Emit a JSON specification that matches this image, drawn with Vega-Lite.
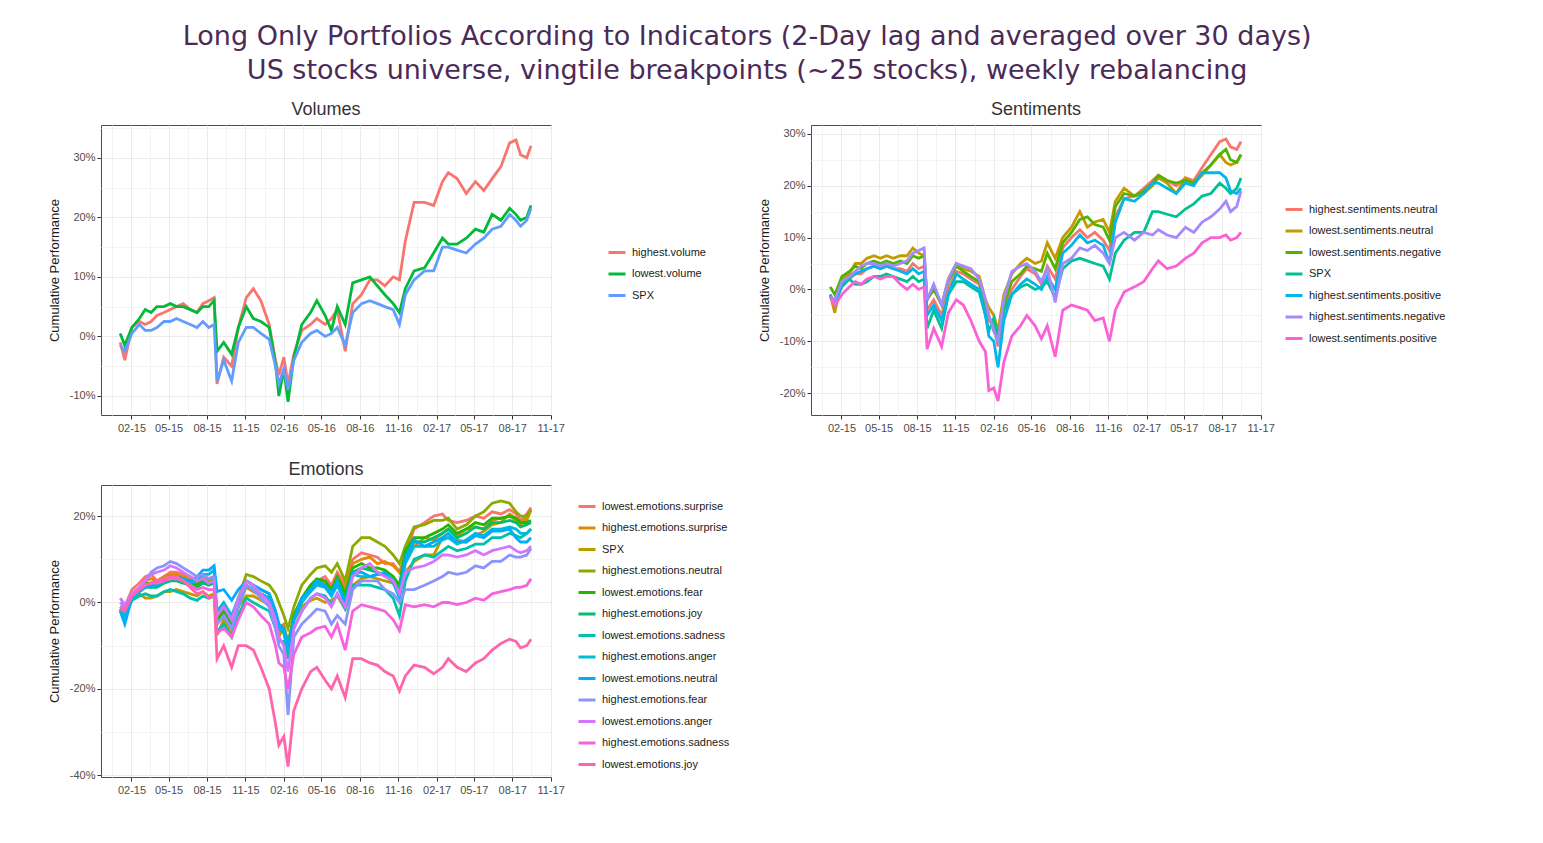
{
  "$schema": "https://vega.github.io/schema/vega-lite/v6.json",
  "background": "white",
  "padding": {"left": 47, "top": 22, "right": 0, "bottom": 0},
  "title": {
    "text": ["Long Only Portfolios According to Indicators (2-Day lag and averaged over 30 days)", "US stocks universe, vingtile breakpoints (~25 stocks), weekly rebalancing"],
    "font": "DejaVu Sans", "fontSize": 27, "fontWeight": "normal", "color": "#4B2A57",
    "anchor": "middle", "lineHeight": 34, "offset": 16
  },
  "config": {
    "view": {"stroke": "#4D4D4D", "strokeWidth": 1},
    "axis": {
      "labelFont": "Liberation Sans", "labelFontSize": 11, "labelColor": "#4D4D4D",
      "tickColor": "#333333", "tickSize": 4, "domain": false, "labelOverlap": false, "labelFlush": false,
      "gridColor": "#EBEBEB", "gridWidth": 1,
      "titleFont": "Liberation Sans", "titleFontSize": 13, "titleColor": "#1A1A1A", "titleFontWeight": "normal"
    },
    "title": {"font": "Liberation Sans", "fontSize": 18, "fontWeight": "normal", "color": "#333333", "offset": 6, "anchor": "middle"},
    "legend": {
      "orient": "none", "title": null, "symbolType": "stroke", "symbolSize": 289, "symbolStrokeWidth": 3,
      "labelFont": "Liberation Sans", "labelFontSize": 11, "labelColor": "#1A1A1A", "rowPadding": 5.5, "labelOffset": 5, "padding": 0
    }
  },
  "datasets": {
    "vol": [
      {"t":"2015-01-05","a":-1,"b":0.5,"c":-1.5},
      {"t":"2015-01-16","a":-4,"b":-1.5,"c":-2.5},
      {"t":"2015-02-02","a":1.5,"b":1.5,"c":0.5},
      {"t":"2015-02-20","a":2.5,"b":3,"c":2},
      {"t":"2015-03-06","a":2,"b":4.5,"c":1},
      {"t":"2015-03-20","a":2.5,"b":4,"c":1},
      {"t":"2015-04-03","a":3.5,"b":5,"c":1.5},
      {"t":"2015-04-20","a":4,"b":5,"c":2.5},
      {"t":"2015-05-05","a":4.5,"b":5.5,"c":2.5},
      {"t":"2015-05-20","a":5,"b":5,"c":3},
      {"t":"2015-06-05","a":5.5,"b":5,"c":2.5},
      {"t":"2015-06-22","a":4.5,"b":4.5,"c":2},
      {"t":"2015-07-08","a":4,"b":4,"c":1.5},
      {"t":"2015-07-22","a":5.5,"b":5,"c":2.5},
      {"t":"2015-08-05","a":6,"b":5,"c":1.5},
      {"t":"2015-08-18","a":6.5,"b":6,"c":2},
      {"t":"2015-08-25","a":-8,"b":-2.5,"c":-7.5},
      {"t":"2015-09-10","a":-3.5,"b":-1,"c":-4},
      {"t":"2015-09-29","a":-5,"b":-3,"c":-7.5},
      {"t":"2015-10-15","a":1.5,"b":1.5,"c":-1},
      {"t":"2015-11-03","a":6.5,"b":5,"c":1.5},
      {"t":"2015-11-20","a":8,"b":3,"c":1.5},
      {"t":"2015-12-08","a":6,"b":2.5,"c":0.5},
      {"t":"2015-12-28","a":2,"b":1.5,"c":-0.5},
      {"t":"2016-01-12","a":-4,"b":-4.5,"c":-5},
      {"t":"2016-01-20","a":-6.5,"b":-10,"c":-8},
      {"t":"2016-02-01","a":-3.5,"b":-5.5,"c":-5.5},
      {"t":"2016-02-11","a":-8,"b":-11,"c":-9},
      {"t":"2016-02-25","a":-3,"b":-3.5,"c":-4},
      {"t":"2016-03-15","a":1,"b":2,"c":-1},
      {"t":"2016-04-05","a":2,"b":4,"c":0.5},
      {"t":"2016-04-20","a":3,"b":6,"c":1},
      {"t":"2016-05-10","a":2,"b":3.5,"c":0},
      {"t":"2016-05-25","a":3,"b":1,"c":0.5},
      {"t":"2016-06-08","a":4.5,"b":5,"c":1.5},
      {"t":"2016-06-27","a":-2.5,"b":2,"c":-1.5},
      {"t":"2016-07-15","a":5.5,"b":9,"c":4},
      {"t":"2016-08-05","a":7,"b":9.5,"c":5.5},
      {"t":"2016-08-25","a":9.5,"b":10,"c":6},
      {"t":"2016-09-12","a":9.5,"b":8.5,"c":5.5},
      {"t":"2016-09-30","a":8.5,"b":7,"c":5},
      {"t":"2016-10-20","a":10,"b":5.5,"c":4.5},
      {"t":"2016-11-04","a":9.5,"b":4,"c":2},
      {"t":"2016-11-18","a":16,"b":8,"c":7},
      {"t":"2016-12-09","a":22.5,"b":11,"c":9.5},
      {"t":"2017-01-03","a":22.5,"b":11.5,"c":11},
      {"t":"2017-01-25","a":22,"b":14,"c":11},
      {"t":"2017-02-15","a":26,"b":16.5,"c":15},
      {"t":"2017-03-01","a":27.5,"b":15.5,"c":15},
      {"t":"2017-03-22","a":26.5,"b":15.5,"c":14.5},
      {"t":"2017-04-13","a":24,"b":16.5,"c":14},
      {"t":"2017-05-05","a":26,"b":18,"c":15.5},
      {"t":"2017-05-25","a":24.5,"b":17.5,"c":16.5},
      {"t":"2017-06-14","a":26.5,"b":20.5,"c":18},
      {"t":"2017-07-05","a":28.5,"b":19.5,"c":18.5},
      {"t":"2017-07-26","a":32.5,"b":21.5,"c":20.5},
      {"t":"2017-08-10","a":33,"b":20.5,"c":19.5},
      {"t":"2017-08-21","a":30.5,"b":19.5,"c":18.5},
      {"t":"2017-09-05","a":30,"b":20,"c":19.5},
      {"t":"2017-09-15","a":32,"b":22,"c":21.5}
    ],
    "sen": [
      {"t":"2015-01-05","a":-1,"b":-1,"c":0.5,"d":-1.5,"e":-1,"f":-1.5,"g":-1.5},
      {"t":"2015-01-16","a":-2.5,"b":-4.5,"c":-1,"d":-2.5,"e":-3,"f":-2,"g":-3},
      {"t":"2015-02-02","a":1,"b":2,"c":2.5,"d":0.5,"e":1,"f":1.5,"g":-1},
      {"t":"2015-02-20","a":2,"b":3,"c":3.5,"d":2,"e":2.5,"f":2.5,"g":0.5},
      {"t":"2015-03-06","a":3,"b":5,"c":4.5,"d":1,"e":3,"f":3.5,"g":1.5},
      {"t":"2015-03-20","a":3,"b":5,"c":4,"d":1,"e":3.5,"f":4.5,"g":1},
      {"t":"2015-04-03","a":4,"b":6,"c":5,"d":1.5,"e":4,"f":5,"g":2},
      {"t":"2015-04-20","a":4.5,"b":6.5,"c":5.5,"d":2.5,"e":4.5,"f":5,"g":2.5},
      {"t":"2015-05-05","a":4,"b":6,"c":5,"d":2.5,"e":4,"f":4.5,"g":2},
      {"t":"2015-05-20","a":4.5,"b":6.5,"c":5.5,"d":3,"e":4.5,"f":5,"g":2.5},
      {"t":"2015-06-05","a":4,"b":6,"c":5,"d":2.5,"e":4,"f":4.5,"g":2.5},
      {"t":"2015-06-22","a":4,"b":6.5,"c":5.5,"d":2,"e":3.5,"f":5,"g":1},
      {"t":"2015-07-08","a":3.5,"b":6.5,"c":5,"d":1.5,"e":3,"f":5.5,"g":0},
      {"t":"2015-07-22","a":5,"b":8,"c":6.5,"d":2.5,"e":4,"f":7,"g":1},
      {"t":"2015-08-05","a":4,"b":7,"c":6,"d":1.5,"e":3,"f":7.5,"g":0},
      {"t":"2015-08-18","a":4.5,"b":6.5,"c":6.5,"d":2,"e":3.5,"f":8,"g":0.5},
      {"t":"2015-08-25","a":-4,"b":-2,"c":-2,"d":-7.5,"e":-5,"f":-2,"g":-11.5},
      {"t":"2015-09-10","a":-2,"b":0.5,"c":0,"d":-4,"e":-3,"f":1,"g":-7.5},
      {"t":"2015-09-29","a":-5,"b":-3,"c":-3,"d":-7.5,"e":-6,"f":-3,"g":-11},
      {"t":"2015-10-15","a":0,"b":2,"c":1.5,"d":-1,"e":-1,"f":2,"g":-4.5},
      {"t":"2015-11-03","a":3.5,"b":5,"c":4.5,"d":1.5,"e":3,"f":5,"g":-2},
      {"t":"2015-11-20","a":3,"b":4,"c":3.5,"d":1.5,"e":2,"f":4.5,"g":-3},
      {"t":"2015-12-08","a":2,"b":3.5,"c":2.5,"d":0.5,"e":1,"f":4,"g":-6},
      {"t":"2015-12-28","a":1,"b":2.5,"c":1.5,"d":-0.5,"e":0,"f":2,"g":-10},
      {"t":"2016-01-12","a":-4,"b":-2,"c":-3,"d":-5,"e":-5,"f":-2,"g":-12},
      {"t":"2016-01-20","a":-6,"b":-3.5,"c":-5,"d":-8,"e":-9,"f":-5,"g":-19.5},
      {"t":"2016-02-01","a":-7,"b":-5,"c":-8,"d":-5.5,"e":-10,"f":-8,"g":-19},
      {"t":"2016-02-11","a":-11,"b":-8,"c":-10,"d":-9,"e":-15,"f":-10,"g":-21.5},
      {"t":"2016-02-25","a":-4,"b":-1,"c":-3,"d":-4,"e":-6,"f":-2,"g":-14},
      {"t":"2016-03-15","a":0,"b":3,"c":1.5,"d":-1,"e":-1,"f":3.5,"g":-9},
      {"t":"2016-04-05","a":2.5,"b":5,"c":3,"d":0.5,"e":1,"f":4.5,"g":-7},
      {"t":"2016-04-20","a":4,"b":6,"c":4.5,"d":1,"e":2,"f":5,"g":-5},
      {"t":"2016-05-10","a":3,"b":5,"c":4,"d":0,"e":1,"f":3.5,"g":-7},
      {"t":"2016-05-25","a":1,"b":5.5,"c":3.5,"d":0.5,"e":0,"f":1.5,"g":-9.5},
      {"t":"2016-06-08","a":4.5,"b":9,"c":7,"d":1.5,"e":2.5,"f":4,"g":-7},
      {"t":"2016-06-27","a":2,"b":6,"c":4,"d":-1.5,"e":0,"f":-2.5,"g":-13},
      {"t":"2016-07-15","a":8,"b":10,"c":9,"d":4,"e":7,"f":5,"g":-4},
      {"t":"2016-08-05","a":10,"b":12,"c":11,"d":5.5,"e":8.5,"f":6,"g":-3},
      {"t":"2016-08-25","a":11.5,"b":15,"c":13.5,"d":6,"e":10.5,"f":8,"g":-3.5},
      {"t":"2016-09-12","a":10,"b":12,"c":14,"d":5.5,"e":9,"f":7.5,"g":-4},
      {"t":"2016-09-30","a":11,"b":13,"c":12.5,"d":5,"e":9.5,"f":8.5,"g":-6},
      {"t":"2016-10-20","a":9.5,"b":13.5,"c":12,"d":4.5,"e":8.5,"f":7,"g":-5.5},
      {"t":"2016-11-04","a":7.5,"b":11,"c":9.5,"d":2,"e":5,"f":5,"g":-10},
      {"t":"2016-11-18","a":14,"b":17,"c":16,"d":7,"e":13,"f":10,"g":-4},
      {"t":"2016-12-09","a":17.5,"b":19.5,"c":18.5,"d":9.5,"e":17.5,"f":11,"g":-0.5},
      {"t":"2017-01-03","a":18,"b":18,"c":18,"d":11,"e":17,"f":9.5,"g":0.5},
      {"t":"2017-01-25","a":19.5,"b":18.5,"c":19,"d":11,"e":18.5,"f":11,"g":1.5},
      {"t":"2017-02-15","a":21,"b":20,"c":20.5,"d":15,"e":20.5,"f":10.5,"g":4},
      {"t":"2017-03-01","a":22,"b":21.5,"c":22,"d":15,"e":20.5,"f":11.5,"g":5.5},
      {"t":"2017-03-22","a":21,"b":20.5,"c":21,"d":14.5,"e":19.5,"f":10.5,"g":4},
      {"t":"2017-04-13","a":20,"b":18.5,"c":20.5,"d":14,"e":18.5,"f":10,"g":4.5},
      {"t":"2017-05-05","a":21.5,"b":21.5,"c":21,"d":15.5,"e":20.5,"f":12,"g":6},
      {"t":"2017-05-25","a":21,"b":20.5,"c":20.5,"d":16.5,"e":20,"f":11,"g":7},
      {"t":"2017-06-14","a":23.5,"b":22,"c":22.5,"d":18,"e":22.5,"f":13,"g":9},
      {"t":"2017-07-05","a":26,"b":24,"c":24,"d":18.5,"e":22.5,"f":14,"g":10},
      {"t":"2017-07-26","a":28.5,"b":26,"c":26,"d":20.5,"e":22.5,"f":15.5,"g":10},
      {"t":"2017-08-10","a":29,"b":24.5,"c":27,"d":19.5,"e":21.5,"f":17,"g":10.5},
      {"t":"2017-08-21","a":27.5,"b":24,"c":25,"d":18.5,"e":19,"f":15,"g":9.5},
      {"t":"2017-09-05","a":27,"b":24.5,"c":24.5,"d":19.5,"e":18.5,"f":16,"g":10},
      {"t":"2017-09-15","a":28.5,"b":26,"c":26,"d":21.5,"e":19.5,"f":19,"g":11}
    ],
    "emo": [
      {"t":"2015-01-05","a":-1,"b":-1.5,"c":-1.5,"d":-1.5,"e":-1,"f":-1.5,"g":-2,"h":-1.5,"i":-2,"j":0,"k":1,"l":-1,"m":-1.5},
      {"t":"2015-01-16","a":-1,"b":-2,"c":-2.5,"d":-2.5,"e":-2,"f":-2.5,"g":-3,"h":-3.5,"i":-5,"j":-1,"k":-0.5,"l":-1.5,"m":-2},
      {"t":"2015-02-02","a":3,"b":2,"c":0.5,"d":2,"e":2,"f":1.5,"g":0.5,"h":1.5,"i":1,"j":2,"k":2,"l":1.5,"m":1.5},
      {"t":"2015-02-20","a":4.5,"b":3.5,"c":2,"d":3,"e":3,"f":2.5,"g":1.5,"h":3,"i":2.5,"j":3.5,"k":3.5,"l":3,"m":3},
      {"t":"2015-03-06","a":6,"b":5,"c":1,"d":4,"e":4.5,"f":3.5,"g":2,"h":4,"i":3.5,"j":5,"k":5,"l":4,"m":4},
      {"t":"2015-03-20","a":6.5,"b":5.5,"c":1,"d":4.5,"e":4.5,"f":3.5,"g":1.5,"h":4,"i":4,"j":7,"k":6.5,"l":4.5,"m":4.5},
      {"t":"2015-04-03","a":5,"b":5,"c":1.5,"d":4.5,"e":4,"f":3.5,"g":1.5,"h":4,"i":4,"j":8,"k":7,"l":4.5,"m":5},
      {"t":"2015-04-20","a":6,"b":6,"c":2.5,"d":5.5,"e":5,"f":4.5,"g":2.5,"h":5,"i":5,"j":8.5,"k":7.5,"l":5,"m":5.5},
      {"t":"2015-05-05","a":7,"b":6.5,"c":2.5,"d":6,"e":5.5,"f":5,"g":3,"h":6,"i":6,"j":9.5,"k":8.5,"l":5.5,"m":6},
      {"t":"2015-05-20","a":7,"b":6.5,"c":3,"d":6,"e":6,"f":5,"g":2.5,"h":6,"i":6,"j":9,"k":8,"l":5.5,"m":6},
      {"t":"2015-06-05","a":6.5,"b":6,"c":2.5,"d":5.5,"e":5,"f":4.5,"g":2,"h":5.5,"i":5.5,"j":8,"k":7,"l":5,"m":5},
      {"t":"2015-06-22","a":6,"b":5.5,"c":2,"d":5,"e":4.5,"f":4,"g":1,"h":4.5,"i":5,"j":7,"k":6,"l":4,"m":3.5},
      {"t":"2015-07-08","a":5,"b":5,"c":1.5,"d":4.5,"e":4,"f":3.5,"g":0.5,"h":5,"i":6,"j":6,"k":5,"l":3,"m":2},
      {"t":"2015-07-22","a":6,"b":5.5,"c":2.5,"d":5,"e":5,"f":4.5,"g":1.5,"h":6.5,"i":7.5,"j":6.5,"k":5.5,"l":3.5,"m":2.5},
      {"t":"2015-08-05","a":5.5,"b":5.5,"c":1.5,"d":5,"e":4.5,"f":4,"g":1,"h":6.5,"i":7.5,"j":5.5,"k":4.5,"l":3,"m":1},
      {"t":"2015-08-18","a":6,"b":6,"c":2,"d":5.5,"e":5,"f":4.5,"g":1.5,"h":7.5,"i":8.5,"j":6,"k":5,"l":3,"m":1.5},
      {"t":"2015-08-25","a":-4,"b":-4.5,"c":-7.5,"d":-3,"e":-4,"f":-5,"g":-7,"h":-2,"i":2.5,"j":-5,"k":-3,"l":-7,"m":-13},
      {"t":"2015-09-10","a":-2,"b":-2.5,"c":-4,"d":-1,"e":-2,"f":-3,"g":-5,"h":0,"i":3,"j":-3,"k":-1,"l":-6,"m":-10},
      {"t":"2015-09-29","a":-5,"b":-5.5,"c":-7.5,"d":-4,"e":-5,"f":-6,"g":-8,"h":-3,"i":0.5,"j":-6,"k":-4,"l":-8,"m":-15},
      {"t":"2015-10-15","a":0,"b":-0.5,"c":-1,"d":1,"e":0,"f":-1,"g":-3,"h":1,"i":3,"j":-1,"k":1,"l":-4,"m":-10},
      {"t":"2015-11-03","a":4,"b":3.5,"c":1.5,"d":6.5,"e":5,"f":4,"g":1,"h":4,"i":5,"j":4,"k":5,"l":0,"m":-10},
      {"t":"2015-11-20","a":3,"b":2.5,"c":1.5,"d":6,"e":4,"f":3,"g":0,"h":3,"i":4,"j":3,"k":4,"l":-1,"m":-11},
      {"t":"2015-12-08","a":2,"b":1.5,"c":0.5,"d":5,"e":3,"f":2,"g":-1,"h":2,"i":3,"j":1,"k":2,"l":-3,"m":-15},
      {"t":"2015-12-28","a":1,"b":0.5,"c":-0.5,"d":4,"e":2,"f":1,"g":-2,"h":1,"i":2,"j":-1,"k":0,"l":-5,"m":-20},
      {"t":"2016-01-12","a":-4,"b":-4.5,"c":-5,"d":2,"e":-2,"f":-3,"g":-6,"h":-3,"i":-2,"j":-6,"k":-4,"l":-10,"m":-28},
      {"t":"2016-01-20","a":-6,"b":-7,"c":-8,"d":0,"e":-5,"f":-6,"g":-9,"h":-6,"i":-5,"j":-10,"k":-8,"l":-14,"m":-33},
      {"t":"2016-02-01","a":-5,"b":-6,"c":-5.5,"d":-3,"e":-6,"f":-7,"g":-9,"h":-7,"i":-6,"j":-12,"k":-10,"l":-15,"m":-31},
      {"t":"2016-02-11","a":-10,"b":-11,"c":-9,"d":-6,"e":-10,"f":-12,"g":-13,"h":-11,"i":-10,"j":-26,"k":-16,"l":-20,"m":-38},
      {"t":"2016-02-25","a":-3,"b":-4,"c":-4,"d":-1,"e":-3,"f":-4,"g":-6,"h":-4,"i":-4,"j":-8,"k":-6,"l":-12,"m":-25},
      {"t":"2016-03-15","a":1,"b":0.5,"c":-1,"d":4,"e":1,"f":0,"g":-2,"h":0,"i":1,"j":-5,"k":-2,"l":-8,"m":-20},
      {"t":"2016-04-05","a":4,"b":3,"c":0.5,"d":6.5,"e":4,"f":3,"g":1,"h":2.5,"i":3,"j":-3,"k":1,"l":-7,"m":-16},
      {"t":"2016-04-20","a":5,"b":4.5,"c":1,"d":8,"e":5.5,"f":4.5,"g":2,"h":4,"i":5,"j":-1.5,"k":2,"l":-6,"m":-15},
      {"t":"2016-05-10","a":6,"b":5,"c":0,"d":8.5,"e":5,"f":4,"g":1.5,"h":3.5,"i":4,"j":-2,"k":1,"l":-5.5,"m":-18},
      {"t":"2016-05-25","a":4,"b":3,"c":0.5,"d":7,"e":3,"f":2,"g":-0.5,"h":1.5,"i":2,"j":-5,"k":-1,"l":-8,"m":-20},
      {"t":"2016-06-08","a":7,"b":6,"c":1.5,"d":9,"e":6,"f":5,"g":2,"h":4,"i":5,"j":-3,"k":2,"l":-5,"m":-17},
      {"t":"2016-06-27","a":4,"b":3,"c":-1.5,"d":5,"e":2,"f":1,"g":-1.5,"h":0,"i":-0.5,"j":-5,"k":-1,"l":-11,"m":-22},
      {"t":"2016-07-15","a":10,"b":9,"c":4,"d":13,"e":8,"f":7,"g":4,"h":6.5,"i":7,"j":3,"k":6,"l":-2,"m":-13},
      {"t":"2016-08-05","a":11.5,"b":10,"c":5.5,"d":15,"e":9,"f":8,"g":4,"h":6,"i":7,"j":5,"k":8,"l":-0.5,"m":-13},
      {"t":"2016-08-25","a":11,"b":10.5,"c":6,"d":15,"e":8,"f":7.5,"g":4,"h":6,"i":6,"j":5,"k":9,"l":-1,"m":-14},
      {"t":"2016-09-12","a":10.5,"b":9,"c":5.5,"d":14,"e":8,"f":7,"g":3.5,"h":6.5,"i":6.5,"j":5,"k":7,"l":-1.5,"m":-14.5},
      {"t":"2016-09-30","a":9,"b":9.5,"c":5,"d":13,"e":7.5,"f":6.5,"g":3,"h":6.5,"i":7,"j":3,"k":6,"l":-2,"m":-16},
      {"t":"2016-10-20","a":9,"b":8.5,"c":4.5,"d":11,"e":6,"f":5,"g":1,"h":4.5,"i":5,"j":2,"k":5,"l":-4,"m":-17},
      {"t":"2016-11-04","a":7,"b":7,"c":2,"d":9,"e":4,"f":3,"g":-3,"h":1,"i":2,"j":0,"k":2,"l":-6.5,"m":-20.5},
      {"t":"2016-11-18","a":11,"b":10,"c":7,"d":13,"e":12,"f":11,"g":5,"h":9,"i":10,"j":3,"k":7,"l":-0.5,"m":-17},
      {"t":"2016-12-09","a":17,"b":13,"c":9.5,"d":17.5,"e":15,"f":14,"g":10,"h":13,"i":14.5,"j":3,"k":8,"l":-1,"m":-14.5},
      {"t":"2017-01-03","a":18.5,"b":15,"c":11,"d":18,"e":15,"f":14,"g":11,"h":13,"i":13,"j":4,"k":8.5,"l":-0.5,"m":-15},
      {"t":"2017-01-25","a":20,"b":14.5,"c":11,"d":19,"e":16,"f":15,"g":10.5,"h":13,"i":14,"j":5,"k":9.5,"l":-1,"m":-16.5},
      {"t":"2017-02-15","a":20.5,"b":16,"c":15,"d":19,"e":17,"f":16,"g":12,"h":14.5,"i":15,"j":6,"k":11,"l":0,"m":-15},
      {"t":"2017-03-01","a":19,"b":17,"c":15,"d":19.5,"e":18,"f":17,"g":13,"h":15,"i":16,"j":7,"k":11,"l":0,"m":-13},
      {"t":"2017-03-22","a":18.5,"b":15.5,"c":14.5,"d":17,"e":16,"f":15,"g":12,"h":13.5,"i":14,"j":6.5,"k":10.5,"l":-0.5,"m":-15},
      {"t":"2017-04-13","a":19,"b":17,"c":14,"d":18,"e":17,"f":16,"g":12.5,"h":14.5,"i":14,"j":7,"k":11,"l":0,"m":-16},
      {"t":"2017-05-05","a":20,"b":17.5,"c":15.5,"d":20,"e":18.5,"f":17.5,"g":13.5,"h":16,"i":15.5,"j":8.5,"k":12,"l":1,"m":-14},
      {"t":"2017-05-25","a":19.5,"b":17,"c":16.5,"d":21,"e":18,"f":17,"g":13.5,"h":15.5,"i":15,"j":8,"k":11,"l":0.5,"m":-13},
      {"t":"2017-06-14","a":21,"b":19,"c":18,"d":23,"e":19.5,"f":18.5,"g":15,"h":17,"i":16.5,"j":9.5,"k":12,"l":2,"m":-11},
      {"t":"2017-07-05","a":20.5,"b":19.5,"c":18.5,"d":23.5,"e":19.5,"f":18.5,"g":15,"h":17,"i":16.5,"j":9.5,"k":12.5,"l":2.5,"m":-9.5},
      {"t":"2017-07-26","a":21.5,"b":20,"c":20.5,"d":23,"e":20,"f":19,"g":16,"h":17.5,"i":17,"j":11,"k":13,"l":3,"m":-8.5},
      {"t":"2017-08-10","a":20.5,"b":19,"c":19.5,"d":21,"e":19.5,"f":18.5,"g":15.5,"h":17,"i":15,"j":10.5,"k":12,"l":3.5,"m":-9},
      {"t":"2017-08-21","a":19,"b":18,"c":18.5,"d":20,"e":18.5,"f":17.5,"g":15,"h":16,"i":14,"j":10.5,"k":11.5,"l":3.5,"m":-10.5},
      {"t":"2017-09-05","a":20.5,"b":19,"c":19.5,"d":20,"e":18.5,"f":18,"g":16,"h":16,"i":14,"j":11,"k":12,"l":4,"m":-10},
      {"t":"2017-09-15","a":22,"b":21.5,"c":21.5,"d":21.5,"e":19,"f":18.5,"g":17,"h":17,"i":15,"j":12.5,"k":13,"l":5.5,"m":-8.5}
    ]
  },
  "vconcat": [
    {
      "hconcat": [
        {
          "width": 450, "height": 290,
          "title": {"text": "Volumes"},
          "data": {"name": "vol"},
          "transform": [{"fold": ["a", "b", "c"], "as": ["series", "val"]}],
          "layer": [
            {
              "mark": {"type": "line", "opacity": 0},
              "encoding": {
                "x": {"field": "t", "type": "temporal", "axis": {"orient": "bottom", "values": [{"year":2014,"month":12,"date":17},{"year":2015,"month":3,"date":17},{"year":2015,"month":6,"date":16},{"year":2015,"month":9,"date":16},{"year":2015,"month":12,"date":17},{"year":2016,"month":3,"date":17},{"year":2016,"month":6,"date":16},{"year":2016,"month":9,"date":16},{"year":2016,"month":12,"date":17},{"year":2017,"month":3,"date":17},{"year":2017,"month":6,"date":16},{"year":2017,"month":9,"date":16}], "labels": false, "ticks": false, "title": null, "grid": true, "gridColor": "#F3F3F3"}},
                "y": {"field": "val", "type": "quantitative", "axis": {"orient": "left", "values": [-5, 5, 15, 25, 35], "labels": false, "ticks": false, "title": null, "grid": true, "gridColor": "#F3F3F3"}},
                "detail": {"field": "series"}
              }
            },
            {
              "mark": {"type": "line", "strokeWidth": 2.8},
              "encoding": {
                "x": {"field": "t", "type": "temporal", "scale": {"domain": [{"year":2014,"month":11,"date":20},{"year":2017,"month":11,"date":2}]}, "axis": {"orient": "bottom", "values": [{"year":2015,"month":2,"date":1},{"year":2015,"month":5,"date":1},{"year":2015,"month":8,"date":1},{"year":2015,"month":11,"date":1},{"year":2016,"month":2,"date":1},{"year":2016,"month":5,"date":1},{"year":2016,"month":8,"date":1},{"year":2016,"month":11,"date":1},{"year":2017,"month":2,"date":1},{"year":2017,"month":5,"date":1},{"year":2017,"month":8,"date":1},{"year":2017,"month":11,"date":1}], "format": "%m-%y", "title": null, "grid": true, "labelPadding": 3}},
                "y": {"field": "val", "type": "quantitative", "scale": {"domain": [-13.2, 35.5], "nice": false, "zero": false}, "axis": {"orient": "left", "values": [-10, 0, 10, 20, 30], "labelExpr": "datum.value + '%'", "title": "Cumulative Performance", "grid": true, "titlePadding": 8}},
                "color": {"field": "series", "type": "nominal", "scale": {"domain": ["a", "b", "c"], "range": ["#F8766D", "#00BA38", "#619CFF"]}, "legend": {"legendX": 506, "legendY": 117.5, "labelExpr": "['highest.volume','lowest.volume','SPX'][indexof('abc', datum.value)]"}}
              }
            }
          ],
          "resolve": {"axis": {"x": "independent", "y": "independent"}}
        },
        {
          "width": 450, "height": 290,
          "title": {"text": "Sentiments"},
          "data": {"name": "sen"},
          "transform": [{"fold": ["a", "b", "c", "d", "e", "f", "g"], "as": ["series", "val"]}],
          "layer": [
            {
              "mark": {"type": "line", "opacity": 0},
              "encoding": {
                "x": {"field": "t", "type": "temporal", "axis": {"orient": "bottom", "values": [{"year":2014,"month":12,"date":17},{"year":2015,"month":3,"date":17},{"year":2015,"month":6,"date":16},{"year":2015,"month":9,"date":16},{"year":2015,"month":12,"date":17},{"year":2016,"month":3,"date":17},{"year":2016,"month":6,"date":16},{"year":2016,"month":9,"date":16},{"year":2016,"month":12,"date":17},{"year":2017,"month":3,"date":17},{"year":2017,"month":6,"date":16},{"year":2017,"month":9,"date":16}], "labels": false, "ticks": false, "title": null, "grid": true, "gridColor": "#F3F3F3"}},
                "y": {"field": "val", "type": "quantitative", "axis": {"orient": "left", "values": [-15, -5, 5, 15, 25], "labels": false, "ticks": false, "title": null, "grid": true, "gridColor": "#F3F3F3"}},
                "detail": {"field": "series"}
              }
            },
            {
              "mark": {"type": "line", "strokeWidth": 2.8},
              "encoding": {
                "x": {"field": "t", "type": "temporal", "scale": {"domain": [{"year":2014,"month":11,"date":20},{"year":2017,"month":11,"date":2}]}, "axis": {"orient": "bottom", "values": [{"year":2015,"month":2,"date":1},{"year":2015,"month":5,"date":1},{"year":2015,"month":8,"date":1},{"year":2015,"month":11,"date":1},{"year":2016,"month":2,"date":1},{"year":2016,"month":5,"date":1},{"year":2016,"month":8,"date":1},{"year":2016,"month":11,"date":1},{"year":2017,"month":2,"date":1},{"year":2017,"month":5,"date":1},{"year":2017,"month":8,"date":1},{"year":2017,"month":11,"date":1}], "format": "%m-%y", "title": null, "grid": true, "labelPadding": 3}},
                "y": {"field": "val", "type": "quantitative", "scale": {"domain": [-24.2, 31.7], "nice": false, "zero": false}, "axis": {"orient": "left", "values": [-20, -10, 0, 10, 20, 30], "labelExpr": "datum.value + '%'", "title": "Cumulative Performance", "grid": true, "titlePadding": 8}},
                "color": {"field": "series", "type": "nominal", "scale": {"domain": ["a", "b", "c", "d", "e", "f", "g"], "range": ["#F8766D", "#C49A00", "#53B400", "#00C094", "#00B6EB", "#A58AFF", "#FB61D7"]}, "legend": {"legendX": 473, "legendY": 74.5, "labelExpr": "['highest.sentiments.neutral','lowest.sentiments.neutral','lowest.sentiments.negative','SPX','highest.sentiments.positive','highest.sentiments.negative','lowest.sentiments.positive'][indexof('abcdefg', datum.value)]"}}
              }
            }
          ],
          "resolve": {"axis": {"x": "independent", "y": "independent"}}
        }
      ],
      "spacing": 50,
      "resolve": {"scale": {"color": "independent"}, "legend": {"color": "independent"}}
    },
    {
      "width": 450, "height": 292,
      "title": {"text": "Emotions"},
      "data": {"name": "emo"},
      "transform": [{"fold": ["a", "b", "c", "d", "e", "f", "g", "h", "i", "j", "k", "l", "m"], "as": ["series", "val"]}],
      "layer": [
        {
          "mark": {"type": "line", "opacity": 0},
          "encoding": {
            "x": {"field": "t", "type": "temporal", "axis": {"orient": "bottom", "values": [{"year":2014,"month":12,"date":17},{"year":2015,"month":3,"date":17},{"year":2015,"month":6,"date":16},{"year":2015,"month":9,"date":16},{"year":2015,"month":12,"date":17},{"year":2016,"month":3,"date":17},{"year":2016,"month":6,"date":16},{"year":2016,"month":9,"date":16},{"year":2016,"month":12,"date":17},{"year":2017,"month":3,"date":17},{"year":2017,"month":6,"date":16},{"year":2017,"month":9,"date":16}], "labels": false, "ticks": false, "title": null, "grid": true, "gridColor": "#F3F3F3"}},
            "y": {"field": "val", "type": "quantitative", "axis": {"orient": "left", "values": [-30, -10, 10], "labels": false, "ticks": false, "title": null, "grid": true, "gridColor": "#F3F3F3"}},
            "detail": {"field": "series"}
          }
        },
        {
          "mark": {"type": "line", "strokeWidth": 2.8},
          "encoding": {
            "x": {"field": "t", "type": "temporal", "scale": {"domain": [{"year":2014,"month":11,"date":20},{"year":2017,"month":11,"date":2}]}, "axis": {"orient": "bottom", "values": [{"year":2015,"month":2,"date":1},{"year":2015,"month":5,"date":1},{"year":2015,"month":8,"date":1},{"year":2015,"month":11,"date":1},{"year":2016,"month":2,"date":1},{"year":2016,"month":5,"date":1},{"year":2016,"month":8,"date":1},{"year":2016,"month":11,"date":1},{"year":2017,"month":2,"date":1},{"year":2017,"month":5,"date":1},{"year":2017,"month":8,"date":1},{"year":2017,"month":11,"date":1}], "format": "%m-%y", "title": null, "grid": true, "labelPadding": 3}},
            "y": {"field": "val", "type": "quantitative", "scale": {"domain": [-40.4, 27.2], "nice": false, "zero": false}, "axis": {"orient": "left", "values": [-40, -20, 0, 20], "labelExpr": "datum.value + '%'", "title": "Cumulative Performance", "grid": true, "titlePadding": 8}},
            "color": {"field": "series", "type": "nominal", "scale": {"domain": ["a", "b", "c", "d", "e", "f", "g", "h", "i", "j", "k", "l", "m"], "range": ["#F8766D", "#E18A00", "#BE9C00", "#8CAB00", "#24B700", "#00BE70", "#00C1AB", "#00BBDA", "#00ACFC", "#8B93FF", "#D575FE", "#F962DD", "#FF65AC"]}, "legend": {"legendX": 476, "legendY": 11.5, "labelExpr": "['lowest.emotions.surprise','highest.emotions.surprise','SPX','highest.emotions.neutral','lowest.emotions.fear','highest.emotions.joy','lowest.emotions.sadness','highest.emotions.anger','lowest.emotions.neutral','highest.emotions.fear','lowest.emotions.anger','highest.emotions.sadness','lowest.emotions.joy'][indexof('abcdefghijklm', datum.value)]"}}
          }
        }
      ],
      "resolve": {"axis": {"x": "independent", "y": "independent"}}
    }
  ],
  "spacing": 26,
  "resolve": {"scale": {"color": "independent"}, "legend": {"color": "independent"}}
}
